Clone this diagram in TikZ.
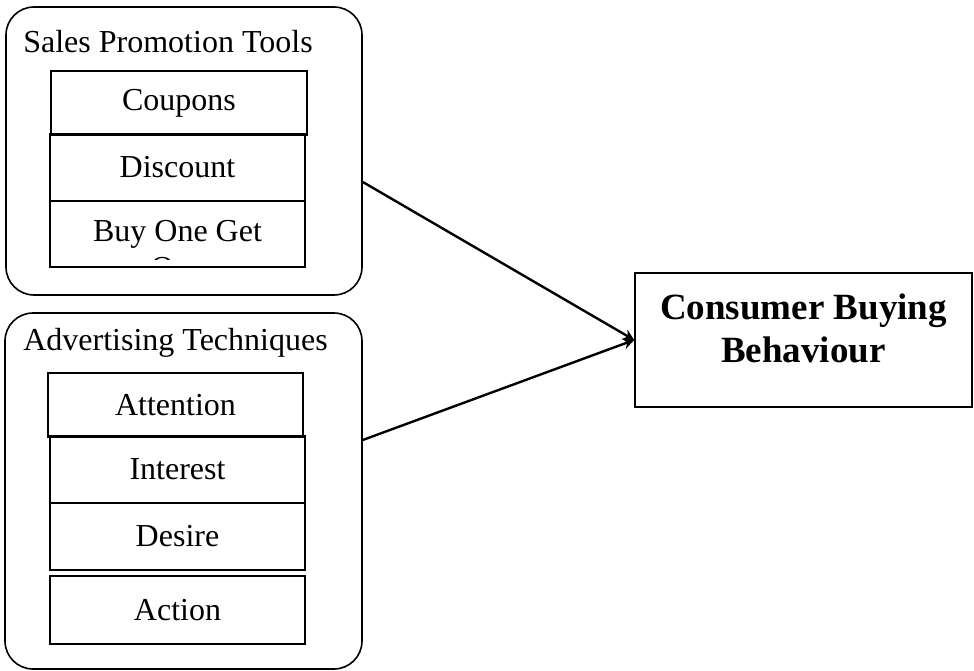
\documentclass[tikz,border=0pt]{standalone}
\usepackage{fontspec}
\setmainfont{Liberation Serif}
\usetikzlibrary{arrows.meta}
\tikzset{
  groupbox/.style={draw, line width=1.6pt, rounded corners=28pt, inner sep=0pt},
  itembox/.style={draw, line width=1.6pt, minimum width=255pt, inner sep=0pt,
    font=\fontsize{32}{37}\selectfont},
  grouptitle/.style={inner sep=0pt, font=\fontsize{32}{37}\selectfont},
  link/.style={line width=2.4pt, -{Stealth[length=11pt,width=11pt]}}
}
\begin{document}
\begin{tikzpicture}[x=1pt,y=1pt]
\useasboundingbox (0,0) rectangle (974,-671);
% sales promotion
\node[groupbox, minimum width=356pt, minimum height=288pt] (sales) at (184,-151) {};
\node[grouptitle] (salestitle) at (168,-42) {Sales Promotion Tools};
\node[itembox, minimum width=256pt, minimum height=64pt] (coupons) at (179,-103) {Coupons};
\node[itembox, minimum height=67pt] (discount) at (177.5,-167.5) {Discount};
\node[itembox, minimum height=66pt, path picture={
    \node[grouptitle, anchor=base] at ([yshift=-7pt]path picture bounding box.center) {Buy One Get};
    \node[grouptitle, anchor=base] at ([yshift=-44pt]path picture bounding box.center) {One};
    \fill[white] ([yshift=-26pt]path picture bounding box.center -| path picture bounding box.west)
      rectangle (path picture bounding box.south east);
  }] (bogo) at (177.5,-234) {};
% advertising
\node[groupbox, minimum width=357pt, minimum height=356pt] (adv) at (183.5,-491) {};
\node[grouptitle] (advtitle) at (175.5,-343) {Advertising Techniques};
\node[itembox, minimum height=64pt] (attention) at (175.5,-405) {Attention};
\node[itembox, minimum height=67pt] (interest) at (177.5,-469.5) {Interest};
\node[itembox, minimum height=67pt] (desire) at (177.5,-536.5) {Desire};
\node[itembox, minimum height=68pt] (action) at (177.5,-610) {Action};
% result
\node[draw, line width=1.6pt, minimum width=337pt, minimum height=134pt] (cbb) at (803.5,-340) {};
\node[anchor=north, inner sep=0pt, align=center, font=\fontsize{37}{43}\selectfont\bfseries]
  (cbbtext) at (803.5,-294) {Consumer Buying\\Behaviour};
\coordinate (salesout) at ([yshift=-31pt]sales.east);
\coordinate (advout) at ([yshift=51pt]adv.east);
\draw[link] (salesout) -- (cbb.west);
\draw[link] (advout) -- (cbb.west);
\end{tikzpicture}
\end{document}
